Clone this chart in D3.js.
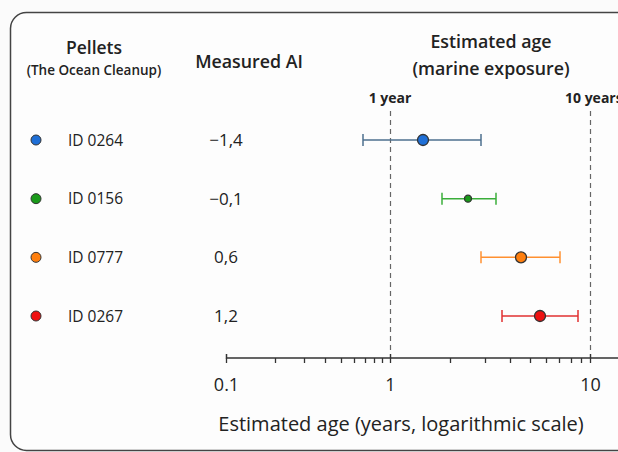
<!DOCTYPE html>
<html>
<head>
<meta charset="utf-8">
<script src="https://cdn.jsdelivr.net/npm/d3@7"></script>
<style>
  html, body { margin: 0; padding: 0; background: #fbfbfb; }
  svg { display: block; font-family: "Open Sans", Lato, sans-serif; }
</style>
</head>
<body>
<script>
// pellet ids, measured AI, estimated age (years) with error range
const pellets = ['ID 0264', 'ID 0156', 'ID 0777', 'ID 0267'];
const measuredAI = ['\u22121,4', '\u22120,1', '0,6', '1,2'];
const ageMid = [1.46, 2.45, 4.5, 5.6];
const ageLow = [0.68, 1.83, 2.85, 3.62];
const ageHigh = [2.85, 3.38, 7.1, 8.7];
const colors = ['#1f6fd6', '#1a9a1a', '#ff7f0e', '#ee1111'];
const barColors = ['#4d6f8e', '#3aae3a', '#ff9030', '#e03030'];
const dotRadius = [5.5, 3.5, 5.5, 5.5];
const refLines = [{ v: 1, label: '1 year' }, { v: 10, label: '10 years' }];
const tickLabels = [0.1, 1, 10];
const minorTicks = [0.2, 0.3, 0.4, 0.5, 0.6, 0.7, 0.8, 0.9, 2, 3, 4, 5, 6, 7, 8, 9];

const W = 618, H = 452;
const svg = d3.select('body').append('svg').attr('width', W).attr('height', H);

// card frame
svg.append('rect')
  .attr('x', 10.5).attr('y', 12.5).attr('width', 700).attr('height', 438)
  .attr('rx', 16).attr('fill', '#fdfdfd').attr('stroke', '#444').attr('stroke-width', 1.5);

// log scale, piecewise so the decades sit where the picture puts them
const x = d3.scaleLog().domain([0.1, 1, 10, 20]).range([226, 390, 590, 650])
  .interpolate(d3.interpolateRound);
const y = d3.scalePoint().domain(pellets).range([140, 316]);
const axisY = 358;

// headers
const head = svg.append('g').attr('fill', '#222');
head.append('text').attr('x', 94).attr('y', 54).attr('text-anchor', 'middle')
  .attr('font-size', 17.5).attr('font-weight', 600).text('Pellets');
head.append('text').attr('x', 94).attr('y', 75).attr('text-anchor', 'middle')
  .attr('font-size', 13.5).attr('font-weight', 600).text('(The Ocean Cleanup)');
head.append('text').attr('x', 249).attr('y', 68).attr('text-anchor', 'middle')
  .attr('font-size', 17.8).attr('font-weight', 600).text('Measured AI');
head.append('text').attr('x', 491).attr('y', 48).attr('text-anchor', 'middle')
  .attr('font-size', 17.8).attr('font-weight', 600).text('Estimated age');
head.append('text').attr('x', 491).attr('y', 75).attr('text-anchor', 'middle')
  .attr('font-size', 17.8).attr('font-weight', 600).text('(marine exposure)');

// reference lines
const ref = svg.append('g');
ref.selectAll('line').data(refLines).join('line')
  .attr('x1', d => x(d.v) + 0.5).attr('x2', d => x(d.v) + 0.5)
  .attr('y1', 111).attr('y2', axisY)
  .attr('stroke', '#666').attr('stroke-width', 1.2).attr('stroke-dasharray', '5,4');
ref.selectAll('text').data(refLines).join('text')
  .attr('x', d => d.v === 1 ? x(d.v) : x(d.v) - 25)
  .attr('y', 103)
  .attr('text-anchor', d => d.v === 1 ? 'middle' : 'start')
  .attr('font-size', 14).attr('font-weight', 700).attr('fill', '#222')
  .text(d => d.label);

// axis
const axis = d3.axisBottom(x)
  .tickValues(tickLabels.concat(minorTicks))
  .tickSize(4)
  .tickFormat(d => tickLabels.includes(d) ? String(d) : '');
const ax = svg.append('g').attr('transform', `translate(0,${axisY})`).call(axis);
ax.select('.domain').attr('d', `M${x(0.1) + 0.5},-4V0H${W + 5}`).attr('stroke', '#333').attr('stroke-width', 1.5);
ax.selectAll('.tick line').attr('stroke', '#333').attr('stroke-width', 1.3)
  .attr('y1', d => d === 1 || d === 10 ? -4 : 0)
  .attr('y2', d => tickLabels.includes(d) ? 5 : 5);
ax.selectAll('.tick text').attr('font-family', '"Open Sans", sans-serif')
  .attr('font-size', 18).attr('fill', '#222').attr('dy', 0).attr('y', 33);

svg.append('text').attr('x', 401).attr('y', 431).attr('text-anchor', 'middle')
  .attr('font-size', 20).attr('font-weight', 500).attr('fill', '#222')
  .text('Estimated age (years, logarithmic scale)');

// rows
const rows = svg.append('g').selectAll('g').data(pellets).join('g')
  .attr('transform', d => `translate(0,${y(d)})`);

rows.append('circle').attr('cx', 36).attr('cy', 0).attr('r', 5)
  .attr('fill', (d, i) => colors[i]).attr('stroke', '#333').attr('stroke-width', 1);
rows.append('text').attr('x', 68).attr('y', 5.5).attr('font-size', 15.5).attr('font-weight', 500)
  .attr('fill', '#222').text(d => d);
rows.append('text').attr('x', 226).attr('y', 6).attr('text-anchor', 'middle')
  .attr('font-size', 17).attr('font-weight', 500).attr('fill', '#222')
  .text((d, i) => measuredAI[i]);

// error bars
rows.append('line')
  .attr('x1', (d, i) => x(ageLow[i])).attr('x2', (d, i) => x(ageHigh[i]))
  .attr('stroke', (d, i) => barColors[i]).attr('stroke-width', 1.5);
rows.selectAll('.cap').data((d, i) => [ageLow[i], ageHigh[i]].map(v => ({ v, i })))
  .join('line').attr('class', 'cap')
  .attr('x1', c => x(c.v)).attr('x2', c => x(c.v)).attr('y1', -6).attr('y2', 6)
  .attr('stroke', c => barColors[c.i]).attr('stroke-width', 1.5);
rows.append('circle')
  .attr('cx', (d, i) => x(ageMid[i])).attr('cy', 0).attr('r', (d, i) => dotRadius[i])
  .attr('fill', (d, i) => colors[i]).attr('stroke', '#333').attr('stroke-width', 1.3);
</script>
</body>
</html>
